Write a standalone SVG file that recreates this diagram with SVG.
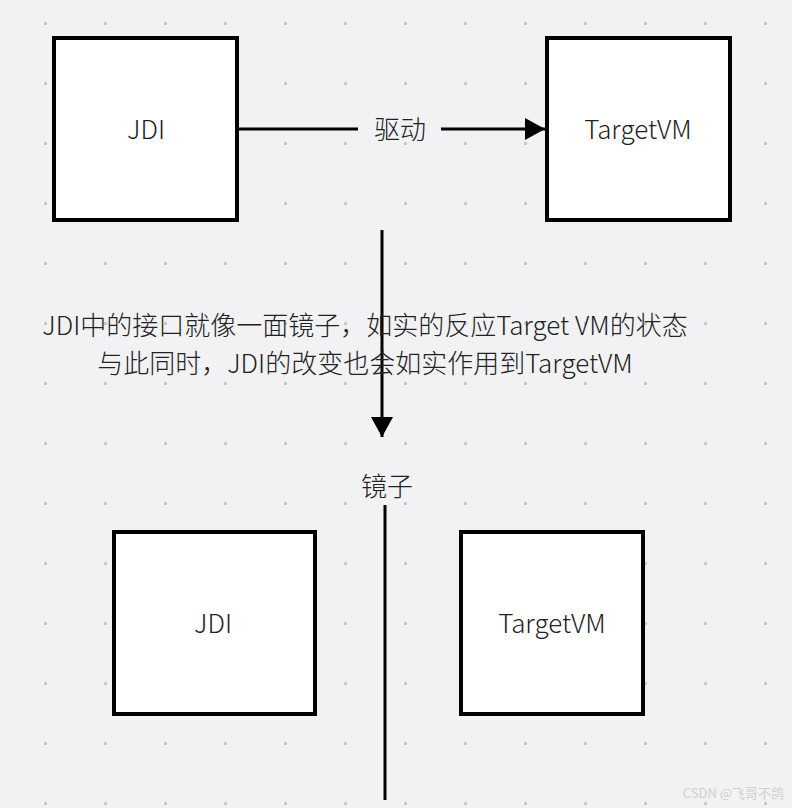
<svg xmlns="http://www.w3.org/2000/svg" width="792" height="808" viewBox="0 0 792 808">
<defs>
<pattern id="grid" x="0" y="0" width="60" height="60" patternUnits="userSpaceOnUse"><rect x="44" y="22" width="3" height="3" fill="#c8c8c8"/></pattern>
<marker id="ah2" markerWidth="20" markerHeight="22" refX="20" refY="11" orient="auto" markerUnits="userSpaceOnUse"><path d="M0,0 L20,11 L0,22 Z" fill="#000"/></marker>
</defs>
<style>
.box{fill:#fff;stroke:#000;stroke-width:4}
.t{font-family:"Noto Sans CJK SC","Noto Sans",sans-serif;font-size:26px;font-weight:300;fill:#222;text-anchor:middle;dominant-baseline:central}
.c{stroke:#000;stroke-width:3;fill:none}
</style>
<rect width="792" height="808" fill="#f2f2f4"/>
<rect width="792" height="808" fill="url(#grid)"/>
<g id="jdi1"><rect class="box" x="54" y="38" width="183" height="182"/><text class="t" x="146" y="127">JDI</text></g>
<g id="tvm1"><rect class="box" x="547" y="38" width="183" height="182"/><text class="t" x="638" y="127">TargetVM</text></g>
<g id="jdi2"><rect class="box" x="114" y="532" width="201" height="182"/><text class="t" x="213" y="621">JDI</text></g>
<g id="tvm2"><rect class="box" x="461" y="532" width="182" height="182"/><text class="t" x="552" y="621">TargetVM</text></g>
<g id="connectors">
<path class="c" d="M239,129 H358"/>
<path class="c" d="M441,129 H545" marker-end="url(#ah2)"/>
<text class="t" x="400" y="127">驱动</text>
<path class="c" d="M382,230 V437" marker-end="url(#ah2)"/>
<text class="t" x="387" y="484">镜子</text>
<path class="c" d="M385,505 V800"/>
</g>
<text class="t" x="365" y="323">JDI中的接口就像一面镜子，如实的反应Target VM的状态</text>
<text class="t" x="365" y="361">与此同时，JDI的改变也会如实作用到TargetVM</text>
<text x="784" y="798" style="font-family:'Noto Sans CJK SC',sans-serif;font-size:13px;fill:#d0d0d0;text-anchor:end">CSDN @飞哥不鸽</text>
</svg>
